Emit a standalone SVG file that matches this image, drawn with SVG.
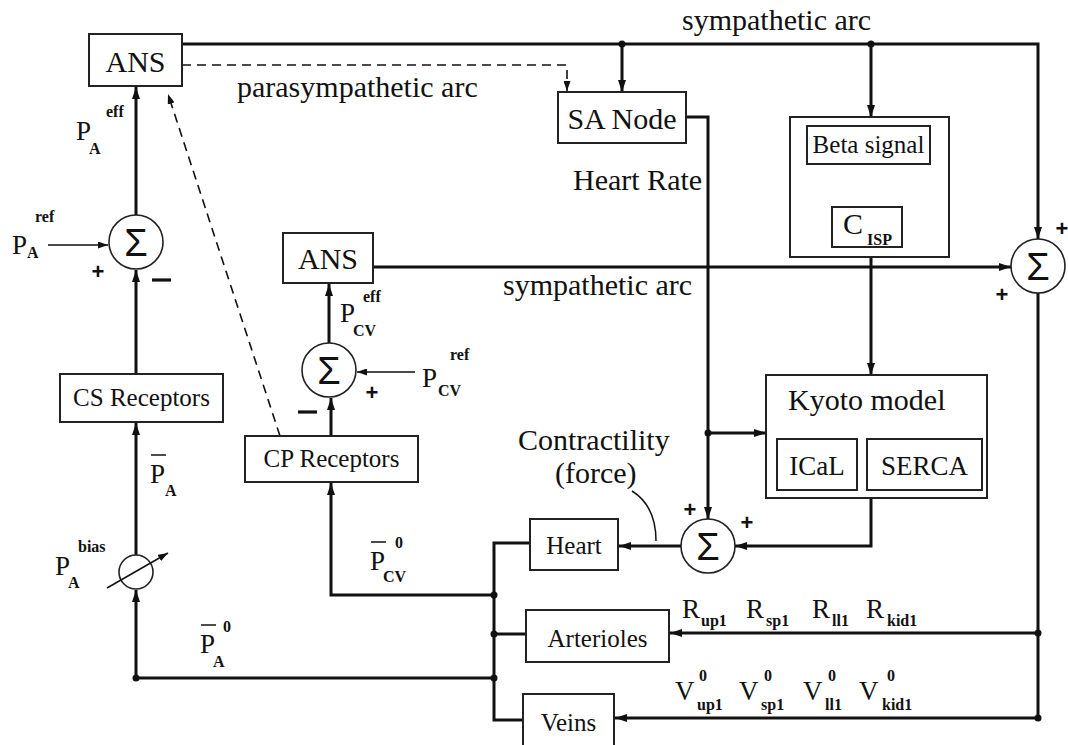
<svg xmlns="http://www.w3.org/2000/svg" width="1068" height="745" viewBox="0 0 1068 745">
<defs>
<marker id="a" viewBox="0 0 12 8" refX="12" refY="4" markerWidth="12" markerHeight="8" markerUnits="userSpaceOnUse" orient="auto"><path d="M0,0 L12,4 L0,8 z" fill="#111"/></marker>
<marker id="s" viewBox="0 0 10 7" refX="10" refY="3.5" markerWidth="10" markerHeight="7" markerUnits="userSpaceOnUse" orient="auto"><path d="M0,0 L10,3.5 L0,7 z" fill="#111"/></marker>
<style>
.box{fill:#fff;stroke:#222;stroke-width:2}
.c{fill:#fff;stroke:#222;stroke-width:1.6}
.w{fill:none;stroke:#111;stroke-width:3}
.t{fill:none;stroke:#111;stroke-width:1.5}
.d{fill:none;stroke:#111;stroke-width:1.6;stroke-dasharray:9 6}
.mn{stroke:#111;stroke-width:3.2}
.dot{fill:#111}
text{font-family:"Liberation Serif","Times New Roman",serif;fill:#111}
.lb{font-size:30px}
.bl{font-size:25px;text-anchor:middle}
.big{font-size:30px;text-anchor:middle}
.sg{font-family:"Liberation Sans",Arial,sans-serif;font-size:38px;text-anchor:middle}
.pm{font-family:"Liberation Sans",Arial,sans-serif;font-size:22px;font-weight:bold;text-anchor:middle}
.P{font-size:27px}
.sm{font-size:16px;font-weight:bold}
</style>
</defs>
<rect width="1068" height="745" fill="#fff"/>

<g id="connectors">
<path class="w" d="M182,44 H1038 V239" marker-end="url(#a)"/>
<path class="w" d="M622,44 V92" marker-end="url(#a)"/>
<path class="w" d="M871,44 V117" marker-end="url(#a)"/>
<path class="d" d="M182,65 H567 V91" marker-end="url(#s)"/>
<path class="d" d="M280,436 L168,94" marker-end="url(#s)"/>
<path class="w" d="M136,215 V87" marker-end="url(#a)"/>
<path class="t" d="M48,245 H108" marker-end="url(#s)"/>
<path class="w" d="M136,374 V270" marker-end="url(#a)"/>
<path class="w" d="M136,555 V423" marker-end="url(#a)"/>
<path class="w" d="M136,678 V590" marker-end="url(#a)"/>
<path class="w" d="M136,678 H494"/>
<path class="w" d="M530,543 H494 V720 H523"/>
<path class="w" d="M494,634 H526"/>
<path class="w" d="M494,595 H331 V483" marker-end="url(#a)"/>
<path class="w" d="M331,436 V398" marker-end="url(#a)"/>
<path class="w" d="M329,343 V284" marker-end="url(#a)"/>
<path class="t" d="M415,372 H357" marker-end="url(#s)"/>
<path class="w" d="M373,267 H1011" marker-end="url(#a)"/>
<path class="w" d="M686,117 H708 V519" marker-end="url(#a)"/>
<path class="w" d="M708,433 H766" marker-end="url(#a)"/>
<path class="w" d="M871,257 V375" marker-end="url(#a)"/>
<path class="w" d="M871,498 V546 H735" marker-end="url(#a)"/>
<path class="w" d="M681,546 H619" marker-end="url(#a)"/>
<path class="w" d="M1038,292 V718"/>
<path class="w" d="M1038,633 H670" marker-end="url(#a)"/>
<path class="w" d="M1038,718 H615" marker-end="url(#a)"/>
<path class="t" d="M871,164 V207" marker-end="url(#s)"/>
<path class="t" d="M656,541 Q656,506 632,491"/>
<circle class="dot" cx="622" cy="44" r="3.5"/>
<circle class="dot" cx="871" cy="44" r="3.5"/>
<circle class="dot" cx="708" cy="433" r="3.5"/>
<circle class="dot" cx="136" cy="678" r="3.5"/>
<circle class="dot" cx="494" cy="595" r="3.5"/>
<circle class="dot" cx="494" cy="634" r="3.5"/>
<circle class="dot" cx="494" cy="678" r="3.5"/>
<circle class="dot" cx="1038" cy="633" r="3.5"/>
<circle class="dot" cx="1038" cy="718" r="3.5"/>
</g>

<g id="ans-top"><rect class="box" x="89" y="34" width="93" height="52"/><text class="big" x="135.5" y="72">ANS</text></g>
<g id="sa-node"><rect class="box" x="558" y="92" width="128" height="51"/><text class="big" x="622" y="129">SA Node</text></g>
<g id="beta-block"><rect class="box" x="790" y="117" width="159" height="140"/>
<g id="beta-signal"><rect class="box" x="807" y="126" width="123" height="38"/><text class="bl" x="868.5" y="153">Beta signal</text></g>
<g id="c-isp"><rect class="box" x="832" y="207" width="70" height="40"/><text class="lb" x="843" y="234">C</text><text class="sm" x="867" y="245">ISP</text></g>
</g>
<g id="ans-mid"><rect class="box" x="283" y="233" width="90" height="50"/><text class="big" x="328" y="269">ANS</text></g>
<g id="cs-receptors"><rect class="box" x="60" y="374" width="163" height="48"/><text class="bl" x="141.5" y="406">CS Receptors</text></g>
<g id="cp-receptors"><rect class="box" x="245" y="436" width="173" height="46"/><text class="bl" x="331.5" y="467">CP Receptors</text></g>
<g id="kyoto"><rect class="box" x="766" y="375" width="221" height="123"/><text class="lb" x="788" y="410">Kyoto model</text>
<g id="ical"><rect class="box" x="777" y="439" width="80" height="51"/><text x="817" y="475" style="font-size:27px;text-anchor:middle">ICaL</text></g>
<g id="serca"><rect class="box" x="867" y="439" width="115" height="51"/><text x="924.5" y="475" style="font-size:27px;text-anchor:middle">SERCA</text></g>
</g>
<g id="heart"><rect class="box" x="530" y="519" width="88" height="51"/><text class="bl" x="574" y="554">Heart</text></g>
<g id="arterioles"><rect class="box" x="526" y="610" width="143" height="52"/><text class="bl" x="597.5" y="647">Arterioles</text></g>
<g id="veins"><rect class="box" x="523" y="694" width="91" height="53"/><text class="bl" x="568.5" y="731">Veins</text></g>

<g id="sum-left"><circle class="c" cx="136" cy="242" r="27"/><text class="sg" x="136" y="256">Σ</text><text class="pm" x="98" y="279">+</text><line class="mn" x1="152" y1="280" x2="171" y2="280"/></g>
<g id="sum-mid"><circle class="c" cx="329" cy="370" r="27"/><text class="sg" x="329" y="384">Σ</text><text class="pm" x="372" y="400">+</text><line class="mn" x1="298" y1="412" x2="317" y2="412"/></g>
<g id="sum-right"><circle class="c" cx="1038" cy="266" r="27"/><text class="sg" x="1038" y="280">Σ</text><text class="pm" x="1062" y="236">+</text><text class="pm" x="1002" y="302">+</text></g>
<g id="sum-bottom"><circle class="c" cx="708" cy="546" r="27"/><text class="sg" x="708" y="560">Σ</text><text class="pm" x="690" y="517">+</text><text class="pm" x="747" y="530">+</text></g>

<g id="bias"><circle class="c" cx="136" cy="572" r="17"/><path class="t" d="M107,588 L168,553" marker-end="url(#s)"/></g>

<g id="labels">
<text class="lb" x="682" y="30">sympathetic arc</text>
<text class="lb" x="237" y="97">parasympathetic arc</text>
<text class="lb" x="573" y="190">Heart Rate</text>
<text class="lb" x="503" y="295">sympathetic arc</text>
<text class="lb" x="518" y="450">Contractility</text>
<text class="lb" x="555" y="483">(force)</text>

<text class="P" x="76" y="140">P</text><text class="sm" x="106" y="117">eff</text><text class="sm" x="89" y="154">A</text>
<text class="P" x="12" y="254">P</text><text class="sm" x="35" y="222">ref</text><text class="sm" x="27" y="258">A</text>
<text class="P" x="150" y="483">P</text><line class="t" x1="151" y1="455" x2="166" y2="455"/><text class="sm" x="165" y="496">A</text>
<text class="P" x="55" y="575">P</text><text class="sm" x="78" y="552">bias</text><text class="sm" x="68" y="588">A</text>
<text class="P" x="200" y="653">P</text><line class="t" x1="201" y1="625" x2="216" y2="625"/><text class="sm" x="223" y="632">0</text><text class="sm" x="213" y="667">A</text>
<text class="P" x="340" y="322">P</text><text class="sm" x="363" y="302">eff</text><text class="sm" x="353" y="336">CV</text>
<text class="P" x="422" y="387">P</text><text class="sm" x="450" y="360">ref</text><text class="sm" x="438" y="396">CV</text>
<text class="P" x="370" y="570">P</text><line class="t" x1="371" y1="542" x2="386" y2="542"/><text class="sm" x="395" y="548">0</text><text class="sm" x="383" y="582">CV</text>

<text class="P" x="682" y="618">R</text><text class="sm" x="701" y="626">up1</text>
<text class="P" x="746" y="618">R</text><text class="sm" x="766" y="626">sp1</text>
<text class="P" x="812" y="618">R</text><text class="sm" x="832" y="626">ll1</text>
<text class="P" x="866" y="618">R</text><text class="sm" x="887" y="626">kid1</text>

<text class="P" x="675" y="700">V</text><text class="sm" x="699" y="681">0</text><text class="sm" x="697" y="710">up1</text>
<text class="P" x="739" y="700">V</text><text class="sm" x="764" y="681">0</text><text class="sm" x="761" y="710">sp1</text>
<text class="P" x="803" y="700">V</text><text class="sm" x="828" y="681">0</text><text class="sm" x="825" y="710">ll1</text>
<text class="P" x="859" y="700">V</text><text class="sm" x="887" y="681">0</text><text class="sm" x="882" y="710">kid1</text>
</g>
</svg>
